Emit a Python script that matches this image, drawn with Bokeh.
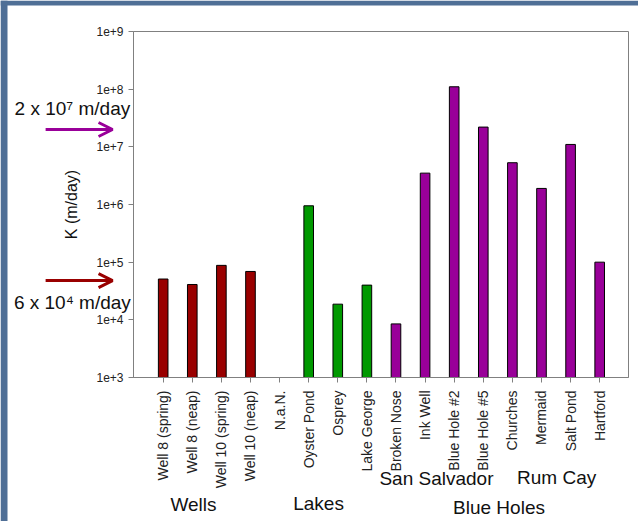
import math
from bokeh.plotting import figure
from bokeh.models import Range1d, FixedTicker, Label, Arrow, OpenHead, ColumnDataSource, BoxAnnotation
from bokeh.embed import file_html
from bokeh.resources import INLINE

# ---- data ----
categories = ["Well 8 (spring)", "Well 8 (neap)", "Well 10 (spring)", "Well 10 (neap)",
              "N.a.N.", "Oyster Pond", "Osprey", "Lake George", "Broken Nose", "Ink Well",
              "Blue Hole #2", "Blue Hole #5", "Churches", "Mermaid", "Salt Pond", "Hartford"]
k_values = [5.1e4, 4.1e4, 8.8e4, 6.9e4, None, 9.5e5, 1.87e4, 4.0e4, 8.5e3, 3.5e6,
            1.1e8, 2.2e7, 5.3e6, 1.9e6, 1.1e7, 1.0e5]
groups = ["Wells", "Wells", "Wells", "Wells", "Wells", "Lakes", "Lakes", "Lakes",
          "Blue Holes", "Blue Holes", "Blue Holes", "Blue Holes",
          "Blue Holes", "Blue Holes", "Blue Holes", "Blue Holes"]
group_colors = {"Wells": "#990000", "Lakes": "#009900", "Blue Holes": "#990099"}
y_ticks = [1000, 10000, 100000, 1000000, 10000000, 100000000, 1000000000]
y_tick_labels = ["1e+3", "1e+4", "1e+5", "1e+6", "1e+7", "1e+8", "1e+9"]
ref_values = [2e7, 4.8e4]
ref_texts = ["2 x 10\u2077 m/day", "6 x 10\u2074 m/day"]
ref_colors = ["#990099", "#990000"]
group_names = ["Wells", "Lakes", "San Salvador", "Rum Cay", "Blue Holes"]

FONT = "Liberation Sans"

# ---- layout geometry ----
W, H = 638, 521
BL, BR, BT, BB = 133, 10, 31, 144
X0, X1 = -1.02, 15.99
Y0, Y1 = 3.0, 9.0
px_x = (W - BL - BR) / (X1 - X0)
px_y = (H - BT - BB) / (Y1 - Y0)

xs, tops, cols = [], [], []
for i, (v, g) in enumerate(zip(k_values, groups)):
    if v is not None:
        xs.append(i)
        tops.append(v)
        cols.append(group_colors[g])
src = ColumnDataSource(dict(x=xs, top=tops, color=cols))

# ---- main chart (transparent, drawn over the underlay) ----
p = figure(width=W, height=H,
           x_range=Range1d(X0, X1), y_range=Range1d(10 ** Y0, 10 ** Y1),
           y_axis_type="log", output_backend="svg", toolbar_location=None,
           min_border_left=BL, min_border_right=BR, min_border_top=BT,
           min_border_bottom=BB, border_fill_color=None, background_fill_color=None,
           margin=(-H, 0, 0, 0))

p.vbar(x="x", top="top", bottom=1e3, width=0.33, fill_color="color",
       line_color="#000000", line_width=1, source=src)

p.grid.visible = False
p.outline_line_color = "#808080"
p.outline_line_width = 1

for ax in (p.xaxis[0], p.yaxis[0]):
    ax.axis_line_color = "#808080"
    ax.major_tick_line_color = "#808080"
    ax.major_tick_in = 0
    ax.major_tick_out = 5
    ax.minor_tick_line_color = None
    ax.major_label_text_font = FONT
    ax.major_label_text_color = "#222222"

p.yaxis.ticker = FixedTicker(ticks=y_ticks)
p.yaxis.major_label_overrides = dict(zip(y_ticks, y_tick_labels))
p.yaxis.major_label_text_font_size = "12px"
p.yaxis.major_label_standoff = 5
p.yaxis.axis_label = "K (m/day)"
p.yaxis.axis_label_text_font = FONT
p.yaxis.axis_label_text_font_style = "normal"
p.yaxis.axis_label_text_font_size = "16px"
p.yaxis.axis_label_text_color = "#111111"
p.yaxis.axis_label_standoff = 13

p.xaxis.ticker = FixedTicker(ticks=list(range(len(categories))))
p.xaxis.major_label_overrides = {i: c for i, c in enumerate(categories)}
p.xaxis.major_label_orientation = math.pi / 2
p.xaxis.major_label_text_font_size = "14px"
p.xaxis.major_label_standoff = 8

# ---- underlay canvas sharing the same scales, frame = whole canvas ----
ov = figure(width=W, height=H,
            x_range=Range1d(X0 - BL / px_x, X1 + BR / px_x),
            y_range=Range1d(10 ** (Y0 - BB / px_y), 10 ** (Y1 + BT / px_y)),
            y_axis_type="log", output_backend="svg", toolbar_location=None,
            x_axis_location=None, y_axis_location=None,
            min_border=0, outline_line_color=None,
            background_fill_color="white", border_fill_color="white")
ov.grid.visible = False

# slide background strips (left and top)
slide_blue = "#4f6f96"
ov.add_layout(BoxAnnotation(right=X0 - (BL - 7) / px_x, fill_color=slide_blue, fill_alpha=1,
                            line_color=None))
ov.add_layout(BoxAnnotation(bottom=10 ** (Y1 + (BT - 5) / px_y), fill_color=slide_blue,
                            fill_alpha=1, line_color=None))

group_x = [1.04, 5.34, 9.39, 13.52, 11.54]
group_y = [10 ** 0.80, 10 ** 0.815, 10 ** 1.25, 10 ** 1.266, 10 ** 0.746]
for txt, gx, gy in zip(group_names, group_x, group_y):
    ov.add_layout(Label(x=gx, y=gy, text=txt, text_align="center", text_baseline="middle",
                        text_font=FONT, text_font_size="19px", text_color="#111111"))

text_y = [10 ** 7.664, 10 ** 4.30]
for val, txt, col, ty in zip(ref_values, ref_texts, ref_colors, text_y):
    ov.add_layout(Arrow(x_start=-4.04, x_end=-1.74, y_start=val, y_end=val,
                        line_color=col, line_width=3,
                        end=OpenHead(size=14, line_color=col, line_width=3)))
    ov.add_layout(Label(x=-3.12, y=ty, text=txt, text_align="center", text_baseline="middle",
                        text_font=FONT, text_font_size="19px", text_color="#111111"))

open("out.html", "w").write(file_html([ov, p], INLINE))
